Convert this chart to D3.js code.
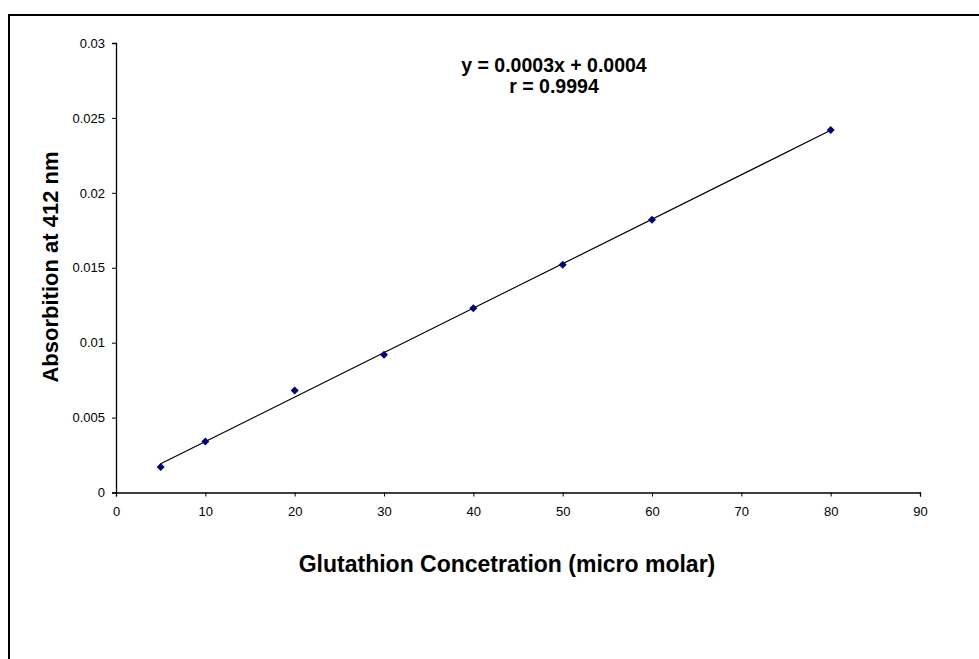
<!DOCTYPE html>
<html>
<head>
<meta charset="utf-8">
<script src="https://cdn.jsdelivr.net/npm/d3@7"></script>
<style>
body { margin: 0; background: white; }
text { font-family: "Liberation Sans", Arial, sans-serif; }
</style>
</head>
<body>
<div id="chart"></div>
<script>
var width = 979
var height = 659
var margin = {top: 43, right: 59, bottom: 167, left: 116}

// Gather data

var concentration = [5, 10, 20, 30, 40, 50, 60, 80];
var absorption = [0.0017, 0.0034, 0.0068, 0.0092, 0.0123, 0.0152, 0.0182, 0.0242];
var x_ticks = [0, 10, 20, 30, 40, 50, 60, 70, 80, 90];
var y_ticks = [0, 0.005, 0.01, 0.015, 0.02, 0.025, 0.03];
var y_tick_labels = ["0", "0.005", "0.01", "0.015", "0.02", "0.025", "0.03"];
var equation_lines = ["y = 0.0003x + 0.0004", "r = 0.9994"];

// Least squares trendline
var n = concentration.length;
var mx = d3.mean(concentration), my = d3.mean(absorption);
var sxy = 0, sxx = 0;
for (i = 0; i < n; i++) {
    sxy += (concentration[i] - mx) * (absorption[i] - my);
    sxx += (concentration[i] - mx) * (concentration[i] - mx);
}
var slope = sxy / sxx;
var intercept = my - slope * mx;
var x_ext = d3.extent(concentration);

var x_scale = d3.scaleLinear()
    .domain([0, 90])
    .range([margin.left, width - margin.right]);

var y_scale = d3.scaleLinear()
    .domain([0, 0.03])
    .range([height - margin.bottom + 0.5, margin.top]);

var xAxis = d3.axisBottom(x_scale).tickValues(x_ticks).tickSize(4).tickPadding(10);
var yAxis = d3.axisLeft(y_scale).tickValues(y_ticks).tickSize(4).tickPadding(7)
    .tickFormat(function(d, i) { return y_tick_labels[i]; });

// Chart background

var svg = d3.select("#chart")
    .append('svg')
    .attr('width', width)
    .attr('height', height)
    .style("background-color", "white")

svg.append("rect")
    .attr("x", 9)
    .attr("y", 15)
    .attr("width", 1000)
    .attr("height", 700)
    .attr("fill", "white")
    .attr("stroke", "black")
    .attr("stroke-width", 2)

// Axes

var gx = svg.append("g")
    .attr("transform", "translate(0," + y_scale(0) + ")")
    .call(xAxis);
var gy = svg.append("g")
    .attr("transform", "translate(" + margin.left + ",0)")
    .call(yAxis);

[gx, gy].forEach(function(g) {
    g.select(".domain").attr("stroke", "black").attr("stroke-width", 1.3);
    g.selectAll(".tick line").attr("stroke", "black");
    g.selectAll(".tick text").attr("fill", "black").style("font-size", "13px")
        .style("font-family", "'Liberation Sans', Arial, sans-serif");
});

// Trendline

svg.append("line")
    .attr("x1", x_scale(x_ext[0]))
    .attr("y1", y_scale(slope * x_ext[0] + intercept))
    .attr("x2", x_scale(x_ext[1]))
    .attr("y2", y_scale(slope * x_ext[1] + intercept))
    .attr("stroke", "black")
    .attr("stroke-width", 1.2)

// Points

svg.append("g")
    .selectAll("path")
    .data(concentration)
    .enter()
    .append("path")
    .attr("d", "M0,-4L4,0L0,4L-4,0Z")
    .attr("transform", function(d, i) {
        return "translate(" + x_scale(d) + "," + y_scale(absorption[i]) + ")";
    })
    .attr("fill", "#000080")

// Titles

svg.append("text")
    .attr("x", 507)
    .attr("y", 572)
    .attr("text-anchor", "middle")
    .style("font-size", "23px")
    .style("font-weight", "bold")
    .text("Glutathion Concetration (micro molar)")

svg.append("text")
    .attr("transform", "translate(58,267) rotate(-90)")
    .attr("text-anchor", "middle")
    .style("font-size", "22px")
    .style("font-weight", "bold")
    .text("Absorbition at 412 nm")

svg.append("g")
    .selectAll("text")
    .data(equation_lines)
    .enter()
    .append("text")
    .attr("x", 554)
    .attr("y", function(d, i) { return 72 + i * 21; })
    .attr("text-anchor", "middle")
    .style("font-size", "19.5px")
    .style("font-weight", "bold")
    .text(function(d) { return d; })
</script>
</body>
</html>
